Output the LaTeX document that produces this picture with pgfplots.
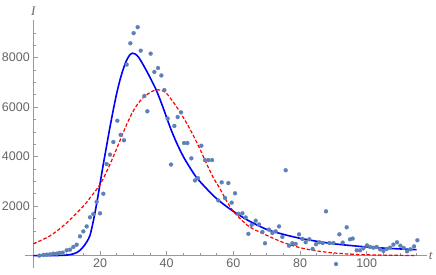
\documentclass[border=0pt]{standalone}
\usepackage{fontspec}
\setmainfont{Liberation Sans}
\newfontfamily\serifit{Liberation Serif}
\usepackage{pgfplots}
\pgfplotsset{compat=1.18}
\definecolor{pts}{rgb}{0.368417,0.506779,0.709798}
\definecolor{axgray}{gray}{0.6}
\definecolor{lblgray}{gray}{0.4}
\begin{document}
\begin{tikzpicture}
\fill[white] (-25pt,-7pt) rectangle (411pt,268pt);
\begin{axis}[
  scale only axis, width=401.7pt, height=247.5pt,
  at={(0,0)}, anchor=south west,
  axis lines=middle,
  axis line style={axgray, line width=0.8pt, -},
  xmin=-2.5, xmax=118, ymin=-500, ymax=9500,
  xtick={20,40,60,80,100}, ytick={2000,4000,6000,8000},
  minor xtick={5,10,15,25,30,35,45,50,55,65,70,75,85,90,95,105,110,115},
  minor ytick={500,1000,1500,2500,3000,3500,4500,5000,5500,6500,7000,7500,8500,9000},
  tick align=inside,
  major tick length=4.5pt, minor tick length=2.5pt,
  tick style={axgray, line width=0.6pt},
  ticklabel style={font=\fontsize{12.5}{14}\selectfont, text=lblgray},
  /pgf/number format/1000 sep={},
  /pgf/number format/assume math mode=true,
  xlabel={\serifit\itshape t}, ylabel={\serifit\itshape I},
  x label style={at={(axis cs:118,0)}, anchor=west, font=\fontsize{13}{14}\selectfont, text=lblgray, inner sep=2pt},
  y label style={at={(axis cs:0,9500)}, anchor=south, font=\fontsize{13}{14}\selectfont, text=lblgray, yshift=1pt},
  clip=false,
]
\addplot[pts, only marks, mark=*, mark size=2pt, mark options={fill=pts, draw=pts, line width=0.2pt}] coordinates {
(1.8,0) (3,30) (4,40) (5,50) (6,80) (7,80) (7.8,110) (8.8,120) (10,215) (11,240)
(12,350) (13,440) (14,780) (15,980) (16,1180) (17,1550) (18,1680) (19,2170) (20,1710) (21,2500)
(22,3700) (23,4080) (24,4590) (25.2,5450) (26.2,4880) (27.2,4660) (28,7720) (29.1,8580) (30.1,8990) (31.3,9230)
(32.2,8280) (33.3,6450) (34.2,5830) (35.2,8160) (36.3,7420) (37.4,7580) (38.4,7280) (39.3,6690) (40.3,5540) (41.3,3680)
(42.3,5240) (43.3,5600) (44.3,5790) (45.2,4550) (46.2,4550) (47.4,3930) (48.5,3040) (49.4,3130) (50.4,4440) (51.5,3860)
(52.5,3860) (53.6,3860) (55.5,2230) (56.5,2960) (57.5,2330) (58.5,2930) (59.5,2140) (60.5,2520) (61.5,1690) (62.7,1710)
(63.7,1540) (64.5,880) (65.5,1240) (66.7,1410) (67.7,1260) (68.7,955) (69.5,500) (70.7,1050) (71.7,915) (72.7,980)
(73.7,1180) (74.7,755) (75.7,3450) (76.7,400) (77.7,500) (78.7,470) (79.7,860) (80.7,675) (81.7,540) (82.8,660)
(83.8,270) (84.8,460) (85.8,540) (86.8,510) (87.8,1790) (88.8,510) (90,510) (90.8,-340) (91.8,860) (92.8,525)
(94,1145) (95,660) (95.8,690) (97,215) (98,215) (99,295) (100.1,415) (101,350) (102,320) (103,350)
(104,255) (105,190) (106,270) (107,320) (108,445) (109.1,540) (110.1,400) (111.1,310) (112.1,175) (113.1,255)
(114.2,375) (115.2,620)
};
\addplot[blue, line width=1.6pt, smooth, no marks] coordinates {
(0,0) (5,2) (8,8) (10,20) (12,70) (13,120) (14,220) (15,360) (16,550) (17,820)
(18,1400) (19,2100) (20,2900) (21,3700) (22,4450) (23,5200) (24,5900) (25,6550) (26,7100) (27,7550)
(28,7900) (29,8120) (29.7,8180) (30.5,8150) (31.5,8030) (33,7700) (35,7200) (37,6650) (39,5950) (41,5200)
(43,4550) (45,4000) (47,3550) (49,3150) (52,2700) (55,2300) (58,1980) (61,1700) (65,1380) (70,1060)
(75,860) (80,700) (85,580) (90,480) (95,410) (100,350) (105,305) (110,270) (115,240)
};
\addplot[red, line width=1.2pt, dash pattern=on 3.5pt off 2pt, smooth, no marks] coordinates {
(0,480) (5,800) (10,1320) (15,2000) (17,2330) (20,2870) (22,3400) (24,4000) (26,4650) (28,5300)
(30,5850) (32,6250) (34,6500) (36,6660) (37.5,6700) (39,6650) (40,6550) (42,6200) (44,5800) (46,5350)
(48,4850) (50,4300) (52,3700) (54,3150) (56,2700) (58,2200) (60,1790) (62,1500) (65,1150) (70,820)
(75,530) (80,320) (85,190) (90,110) (95,60) (100,35) (105,20) (110,10) (115,5)
};
\end{axis}
\pgfresetboundingbox
\path[use as bounding box] (-25pt,-7pt) rectangle (411pt,268pt);
\end{tikzpicture}
\end{document}
